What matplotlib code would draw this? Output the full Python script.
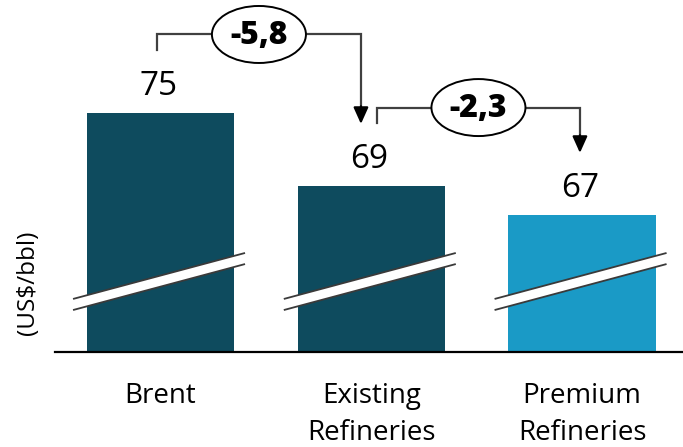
import matplotlib
matplotlib.use("Agg")
import matplotlib.pyplot as plt
from matplotlib.patches import Ellipse, Polygon

plt.rcParams['font.family'] = ['Open Sans', 'DejaVu Sans']

categories = ["Brent", "Existing\nRefineries", "Premium\nRefineries"]
values = [75.0, 69.2, 66.9]
value_labels = ["75", "69", "67"]
delta_labels = ["-5,8", "-2,3"]
bar_colors = ["#0E4B5E", "#0E4B5E", "#1A9AC6"]
y_label = "(US$/bbl)"

W, H = 683, 447
fig = plt.figure(figsize=(W / 100, H / 100), dpi=100)
ax = fig.add_axes([55 / W, (H - 352) / H, (W - 55) / W, 352 / H])

x = list(range(len(categories)))
ax.bar(x, values, width=0.70, color=bar_colors, zorder=2)
ax.set_xlim(-0.5006, 2.479)
ax.set_ylim(56, 56 + 352 / 12.6)

for s in ["top", "right", "left"]:
    ax.spines[s].set_visible(False)
ax.spines["bottom"].set_linewidth(1.6)
ax.spines["bottom"].set_color("black")
ax.set_xticks([])
ax.set_yticks([])

# break marks
yl, yr, half = 59.77, 63.42, 0.44
for i in x:
    xl, xr = i - 0.415, i + 0.401
    poly = Polygon([[xl, yl - half], [xr, yr - half], [xr, yr + half], [xl, yl + half]],
                   closed=True, facecolor="white", edgecolor="none", zorder=3)
    ax.add_patch(poly)
    for d in (-half, half):
        ax.plot([xl, xr], [yl + d, yr + d], color="#3a3a3a", lw=1.3, zorder=4,
                solid_capstyle="butt")

# value labels
for i, (v, lab) in enumerate(zip(values, value_labels)):
    ax.annotate(lab, (i - 0.01, v), xytext=(0, 13), textcoords="offset points",
                ha="center", va="baseline", fontsize=24, color="black")

# category labels
for i, cat in enumerate(categories):
    for j, line in enumerate(cat.split("\n")):
        ax.annotate(line, (i, 0), xycoords=("data", "axes fraction"),
                    xytext=(0, -(51 + 37 * j) * 0.72), textcoords="offset points",
                    ha="center", va="baseline", fontsize=20, color="black")

# delta brackets
lc = "#404040"
sx = [-0.017, 0.027]
ex = [-0.049, -0.010]
for k, dl in enumerate(delta_labels):
    x0 = k + sx[k]
    x1 = k + 1 + ex[k]
    ybot = values[k] + 5.0
    ytop = values[k] + 6.2
    ytip = values[k + 1] + 4.9
    ax.plot([x0, x0, x1, x1], [ybot, ytop, ytop, ytip + 1.2], color=lc, lw=1.6, zorder=5,
            solid_joinstyle="miter")
    ax.annotate("", xy=(x1, ytip), xytext=(x1, ytip + 1.4),
                arrowprops=dict(arrowstyle="-|>,head_length=1.0,head_width=0.45",
                                color="black", lw=1.6, shrinkA=0, shrinkB=0), zorder=6)
    xm = (x0 + x1) / 2
    ax.add_patch(Ellipse((xm, ytop), 94 / 210.75, 57 / 12.6, facecolor="white",
                         edgecolor="black", lw=1.4, zorder=7))
    ax.text(xm, ytop - 0.1, dl, ha="center", va="center", fontsize=23, fontweight="heavy",
            zorder=8)

fig.text(28 / W, 1 - 283 / H, y_label, rotation=90, ha="center", va="center", fontsize=17.5)

fig.savefig("out.png", dpi=100)
